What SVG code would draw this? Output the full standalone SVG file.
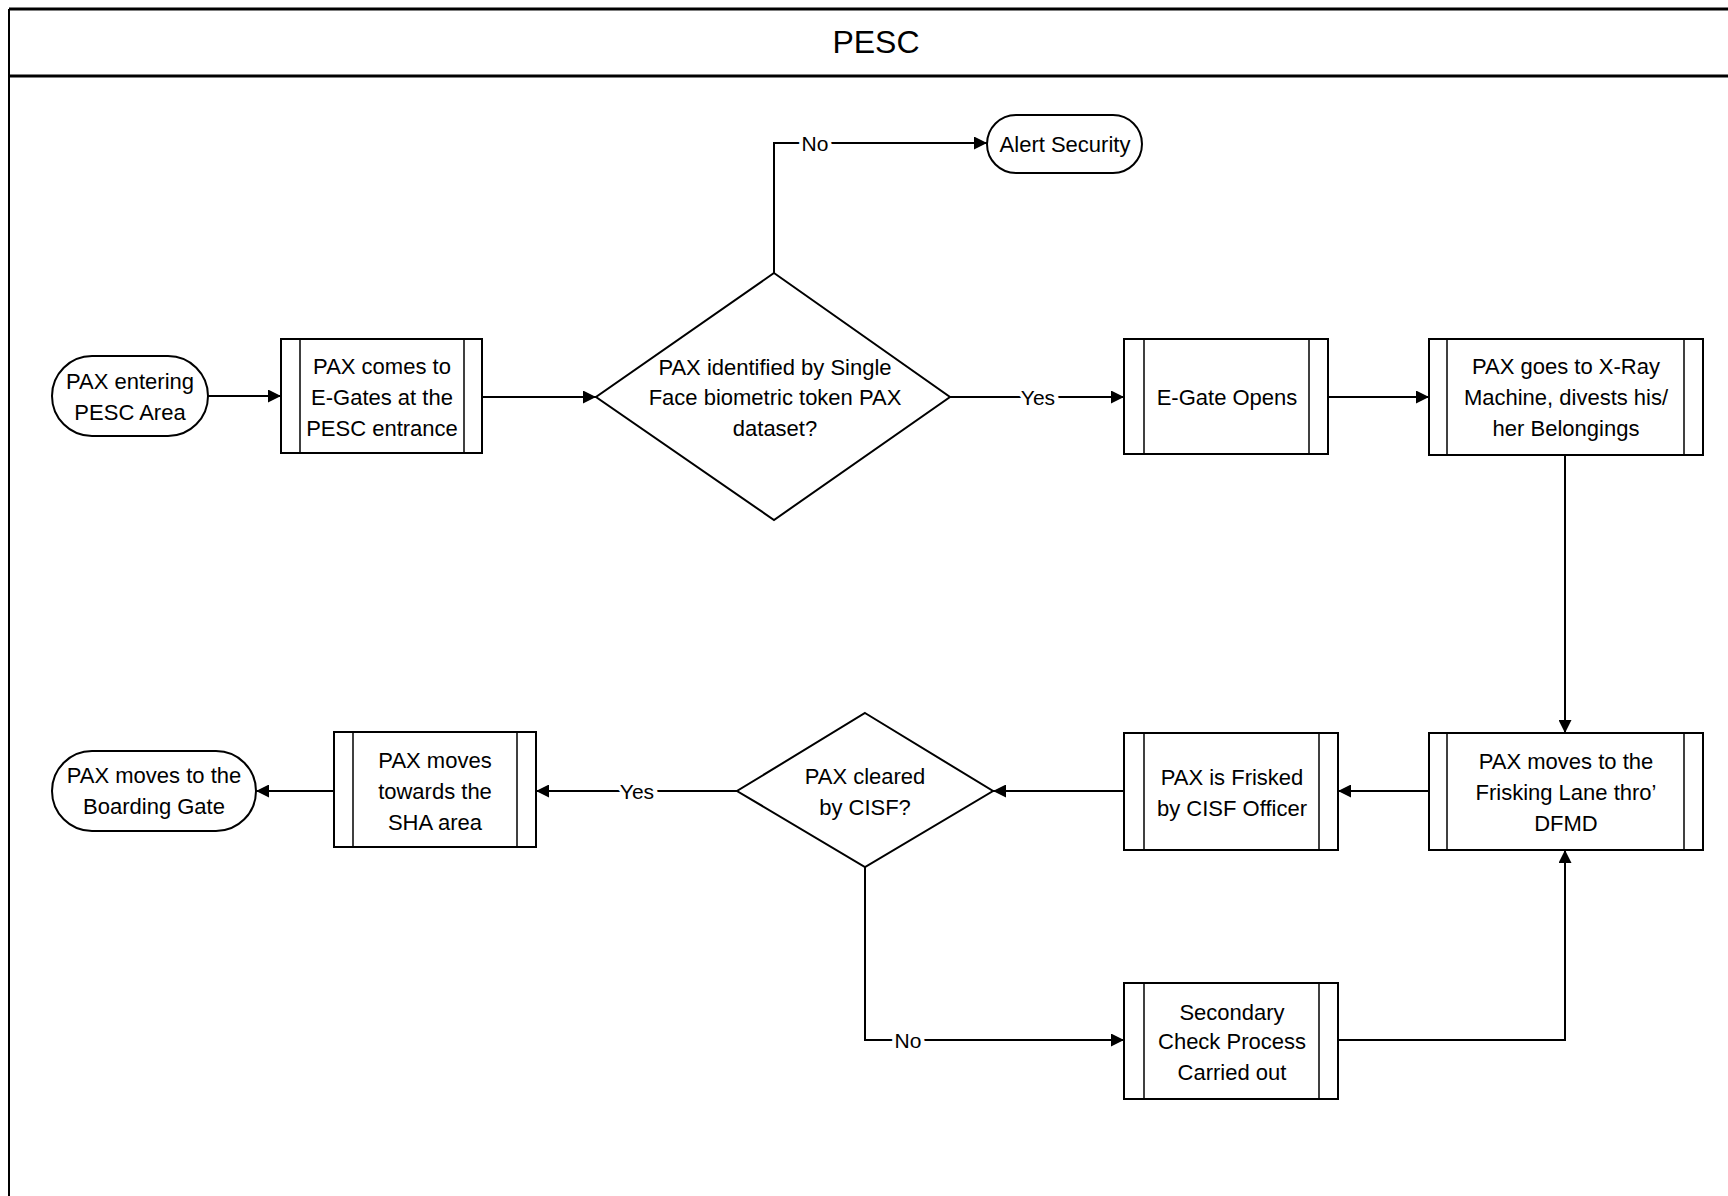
<svg xmlns="http://www.w3.org/2000/svg" width="1728" height="1196" viewBox="0 0 1728 1196">
  <style>
    .shape { fill: #ffffff; stroke: #000000; stroke-width: 2; }
    .bar { stroke: #000000; stroke-width: 1.5; }
    .edge { fill: none; stroke: #000000; stroke-width: 2; }
    .txt { font-family: "Liberation Sans", Arial, sans-serif; font-size: 22px; fill: #000000; text-anchor: middle; dominant-baseline: central; }
    .lbl { font-family: "Liberation Sans", Arial, sans-serif; font-size: 21px; fill: #000000; text-anchor: middle; dominant-baseline: central; stroke: #ffffff; stroke-width: 8; paint-order: stroke; }
    .title { font-family: "Liberation Sans", Arial, sans-serif; font-size: 32px; fill: #000000; text-anchor: middle; dominant-baseline: central; }
  </style>
  <defs>
    <marker id="arrow" viewBox="0 0 10 10" refX="10" refY="5" markerWidth="6.5" markerHeight="6.5" orient="auto" markerUnits="strokeWidth">
      <path d="M0,0 L10,5 L0,10 z" fill="#000000"/>
    </marker>
  </defs>

  <rect x="0" y="0" width="1728" height="1196" fill="#ffffff"/>

  <!-- pool frame and header -->
  <g id="frame">
    <line x1="9" y1="9" x2="1728" y2="9" stroke="#000" stroke-width="3"/>
    <line x1="9" y1="76" x2="1728" y2="76" stroke="#000" stroke-width="3"/>
    <line x1="9" y1="9" x2="9" y2="1196" stroke="#000" stroke-width="2"/>
    <text class="title" x="876" y="42">PESC</text>
  </g>

  <!-- connectors -->
  <g id="connectors">
    <path class="edge" d="M208,396 L281,396" marker-end="url(#arrow)" stroke-width="2.5"/>
    <path class="edge" d="M482,397 L596,397" marker-end="url(#arrow)"/>
    <path class="edge" d="M950,397 L1124,397" marker-end="url(#arrow)"/>
    <path class="edge" d="M1328,397 L1429,397" marker-end="url(#arrow)"/>
    <path class="edge" d="M774,273 L774,143 L987,143" marker-end="url(#arrow)"/>
    <path class="edge" d="M1565,455 L1565,733" marker-end="url(#arrow)"/>
    <path class="edge" d="M1429,791 L1338,791" marker-end="url(#arrow)"/>
    <path class="edge" d="M1124,791 L993,791" marker-end="url(#arrow)"/>
    <path class="edge" d="M737,791 L536,791" marker-end="url(#arrow)"/>
    <path class="edge" d="M334,791 L256,791" marker-end="url(#arrow)" stroke-width="2.5"/>
    <path class="edge" d="M865,867 L865,1040 L1124,1040" marker-end="url(#arrow)"/>
    <path class="edge" d="M1338,1040 L1565,1040 L1565,850" marker-end="url(#arrow)"/>
    <text class="lbl" x="1038" y="397">Yes</text>
    <text class="lbl" x="815" y="143">No</text>
    <text class="lbl" x="637" y="791">Yes</text>
    <text class="lbl" x="908" y="1040">No</text>
  </g>

  <g id="start">
    <rect class="shape" x="52" y="356" width="156" height="80" rx="40"/>
    <text class="txt" x="130" y="381">PAX entering</text>
    <text class="txt" x="130" y="412">PESC Area</text>
  </g>

  <g id="egate-arrival">
    <rect class="shape" x="281" y="339" width="201" height="114"/>
    <line class="bar" x1="300" y1="339" x2="300" y2="453"/>
    <line class="bar" x1="464" y1="339" x2="464" y2="453"/>
    <text class="txt" x="382" y="366">PAX comes to</text>
    <text class="txt" x="382" y="397">E-Gates at the</text>
    <text class="txt" x="382" y="428">PESC entrance</text>
  </g>

  <g id="face-check">
    <polygon class="shape" points="774,273 950,397 774,520 596,397"/>
    <text class="txt" x="775" y="367">PAX identified by Single</text>
    <text class="txt" x="775" y="397">Face biometric token PAX</text>
    <text class="txt" x="775" y="428">dataset?</text>
  </g>

  <g id="alert-security">
    <rect class="shape" x="987" y="115" width="155" height="58" rx="29"/>
    <text class="txt" x="1065" y="144">Alert Security</text>
  </g>

  <g id="egate-opens">
    <rect class="shape" x="1124" y="339" width="204" height="115"/>
    <line class="bar" x1="1144" y1="339" x2="1144" y2="454"/>
    <line class="bar" x1="1309" y1="339" x2="1309" y2="454"/>
    <text class="txt" x="1227" y="397">E-Gate Opens</text>
  </g>

  <g id="xray">
    <rect class="shape" x="1429" y="339" width="274" height="116"/>
    <line class="bar" x1="1447" y1="339" x2="1447" y2="455"/>
    <line class="bar" x1="1684" y1="339" x2="1684" y2="455"/>
    <text class="txt" x="1566" y="366">PAX goes to X-Ray</text>
    <text class="txt" x="1566" y="397">Machine, divests his/</text>
    <text class="txt" x="1566" y="428">her Belongings</text>
  </g>

  <g id="frisking-lane">
    <rect class="shape" x="1429" y="733" width="274" height="117"/>
    <line class="bar" x1="1447" y1="733" x2="1447" y2="850"/>
    <line class="bar" x1="1684" y1="733" x2="1684" y2="850"/>
    <text class="txt" x="1566" y="761">PAX moves to the</text>
    <text class="txt" x="1566" y="792">Frisking Lane thro’</text>
    <text class="txt" x="1566" y="823">DFMD</text>
  </g>

  <g id="frisked">
    <rect class="shape" x="1124" y="733" width="214" height="117"/>
    <line class="bar" x1="1144" y1="733" x2="1144" y2="850"/>
    <line class="bar" x1="1319" y1="733" x2="1319" y2="850"/>
    <text class="txt" x="1232" y="777">PAX is Frisked</text>
    <text class="txt" x="1232" y="808">by CISF Officer</text>
  </g>

  <g id="cisf-check">
    <polygon class="shape" points="865,713 993,791 865,867 737,791"/>
    <text class="txt" x="865" y="776">PAX cleared</text>
    <text class="txt" x="865" y="807">by CISF?</text>
  </g>

  <g id="sha">
    <rect class="shape" x="334" y="732" width="202" height="115"/>
    <line class="bar" x1="353" y1="732" x2="353" y2="847"/>
    <line class="bar" x1="517" y1="732" x2="517" y2="847"/>
    <text class="txt" x="435" y="760">PAX moves</text>
    <text class="txt" x="435" y="791">towards the</text>
    <text class="txt" x="435" y="822">SHA area</text>
  </g>

  <g id="boarding-gate">
    <rect class="shape" x="52" y="751" width="204" height="80" rx="40"/>
    <text class="txt" x="154" y="775">PAX moves to the</text>
    <text class="txt" x="154" y="806">Boarding Gate</text>
  </g>

  <g id="secondary-check">
    <rect class="shape" x="1124" y="983" width="214" height="116"/>
    <line class="bar" x1="1144" y1="983" x2="1144" y2="1099"/>
    <line class="bar" x1="1319" y1="983" x2="1319" y2="1099"/>
    <text class="txt" x="1232" y="1012">Secondary</text>
    <text class="txt" x="1232" y="1041">Check Process</text>
    <text class="txt" x="1232" y="1072">Carried out</text>
  </g>
</svg>
